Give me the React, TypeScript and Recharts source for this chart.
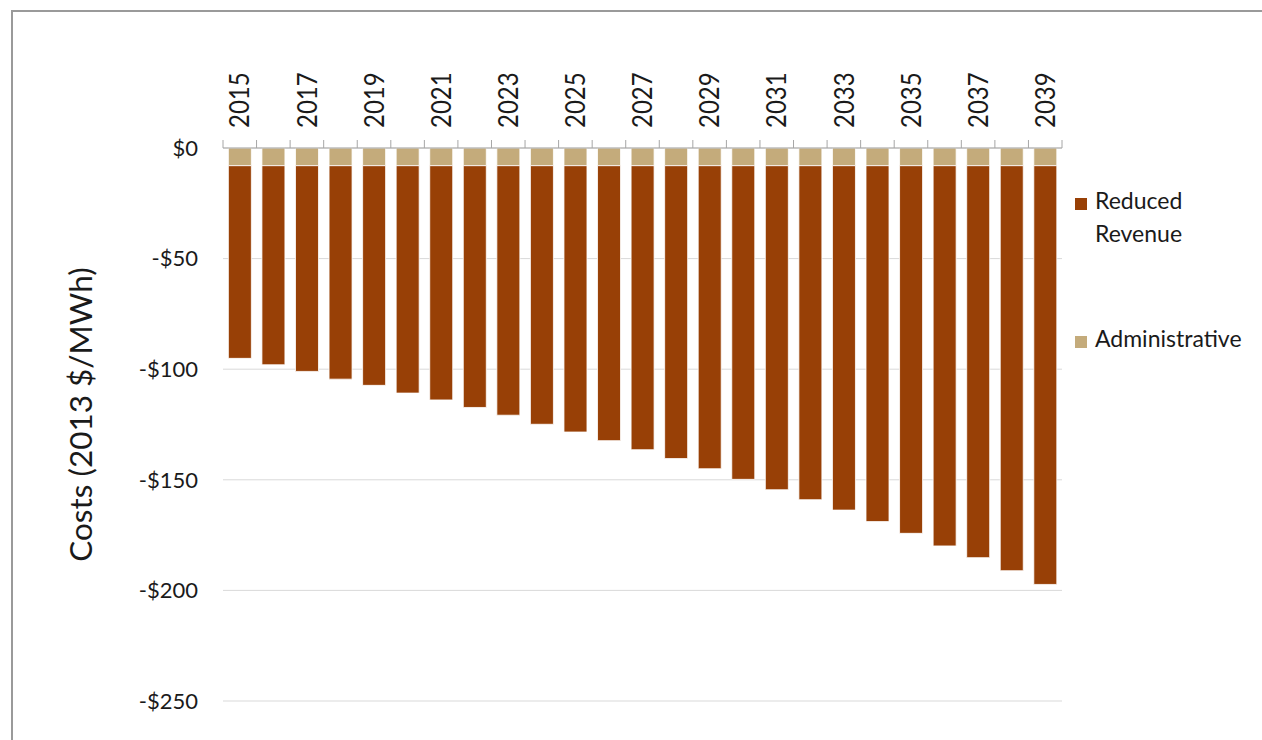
import { BarChart, Bar, XAxis, YAxis, CartesianGrid, Legend, Label } from 'recharts'

const years = [
  '2015', '2016', '2017', '2018', '2019', '2020', '2021', '2022', '2023', '2024',
  '2025', '2026', '2027', '2028', '2029', '2030', '2031', '2032', '2033', '2034',
  '2035', '2036', '2037', '2038', '2039',
]
const reducedRevenue = [
  -87.1, -90.0, -93.0, -96.5, -99.3, -102.8, -105.9, -109.3, -112.8, -116.9,
  -120.4, -124.3, -128.4, -132.4, -137.0, -141.8, -146.5, -151.0, -155.7, -160.9,
  -166.2, -171.9, -177.2, -183.1, -189.3,
]
const administrative = [
  -8, -8, -8, -8, -8, -8, -8, -8, -8, -8,
  -8, -8, -8, -8, -8, -8, -8, -8, -8, -8,
  -8, -8, -8, -8, -8,
]
const yTicks = [0, -50, -100, -150, -200, -250]

const data = years.map((year, i) => ({
  year,
  admin: administrative[i],
  revenue: reducedRevenue[i],
}))

const W = 1262
const H = 740
const margin = { top: 48, right: 200, bottom: 39, left: 0 }
const yAxisW = 223
const plotW = W - margin.right - yAxisW
const band = plotW / years.length
const ink = '#1a1a1a'
const axisGray = '#a6a6a6'

function YearTick(props: any) {
  const { x, y, payload, index } = props
  const last = index === years.length - 1
  return (
    <g>
      <line x1={x - band / 2} x2={x - band / 2} y1={y + 8} y2={y} stroke={axisGray} />
      {last && <line x1={x + band / 2} x2={x + band / 2} y1={y + 8} y2={y} stroke={axisGray} />}
      {index % 2 === 0 && (
        <text
          transform={`translate(${x},${y - 12}) rotate(-90) scale(1,1.12)`}
          textAnchor="start"
          dy="0.36em"
          fontSize={24}
          fill={ink}
        >
          {payload.value}
        </text>
      )}
    </g>
  )
}

function LegendBox({ payload }: any) {
  const items = [...(payload || [])].reverse()
  return (
    <div>
      {items.map((p: any, i: number) => (
        <div key={p.value} style={{ display: 'flex', alignItems: 'flex-start', marginTop: i === 0 ? 0 : 72 }}>
          <div style={{ width: 12, height: 12, background: p.color, marginTop: 14, marginRight: 8, flexShrink: 0 }} />
          <div style={{ fontSize: 23, lineHeight: '33px', color: ink, width: 170 }}>
            {p.value === 'Reduced Revenue' ? (
              <>Reduced<br />Revenue</>
            ) : p.value}
          </div>
        </div>
      ))}
    </div>
  )
}

function AxisTitle({ viewBox }: any) {
  const cx = 81
  const cy = viewBox.y + viewBox.height / 2 - 10
  return (
    <text transform={`translate(${cx},${cy}) rotate(-90)`} textAnchor="middle" dy="0.36em" fontSize={31.5} fill={ink}>
      Costs (2013 $/MWh)
    </text>
  )
}

export default function App() {
  return (
    <div style={{ position: 'relative', width: W, height: H, overflow: 'hidden', fontFamily: 'Lato, sans-serif', background: '#fff' }}>
      <style>{`body { margin: 0; }`}</style>
      <div
        style={{
          position: 'absolute', left: 11, top: 10, right: -10, bottom: -10,
          borderLeft: '2px solid #9a9a9a', borderTop: '2px solid #9a9a9a',
        }}
      />
      <BarChart width={W} height={H} data={data} margin={margin} barCategoryGap="16%">
        <CartesianGrid vertical={false} stroke="#d9d9d9" />
        <XAxis
          dataKey="year"
          orientation="top"
          height={100}
          interval={0}
          tickLine={false}
          tickSize={8}
          tickMargin={0}
          axisLine={{ stroke: axisGray }}
          tick={<YearTick />}
        />
        <YAxis
          width={yAxisW}
          domain={[-250, 0]}
          ticks={yTicks}
          axisLine={false}
          tickLine={false}
          tickMargin={19}
          tick={{ fontSize: 22, fill: ink }}
          tickFormatter={(v: number) => (v === 0 ? '$0' : `-$${-v}`)}
        >
          <Label content={<AxisTitle />} />
        </YAxis>
        <Legend
          layout="horizontal"
          verticalAlign="middle"
          align="center"
          content={<LegendBox />}
          wrapperStyle={{ left: 1075, top: 184, width: 187 }}
        />
        <Bar dataKey="admin" name="Administrative" stackId="a" fill="#c4ab7b" stroke="#ffffff" strokeWidth={0.8} isAnimationActive={false} />
        <Bar dataKey="revenue" name="Reduced Revenue" stackId="a" fill="#984006" stroke="#ffffff" strokeWidth={0.8} isAnimationActive={false} />
      </BarChart>
    </div>
  )
}
